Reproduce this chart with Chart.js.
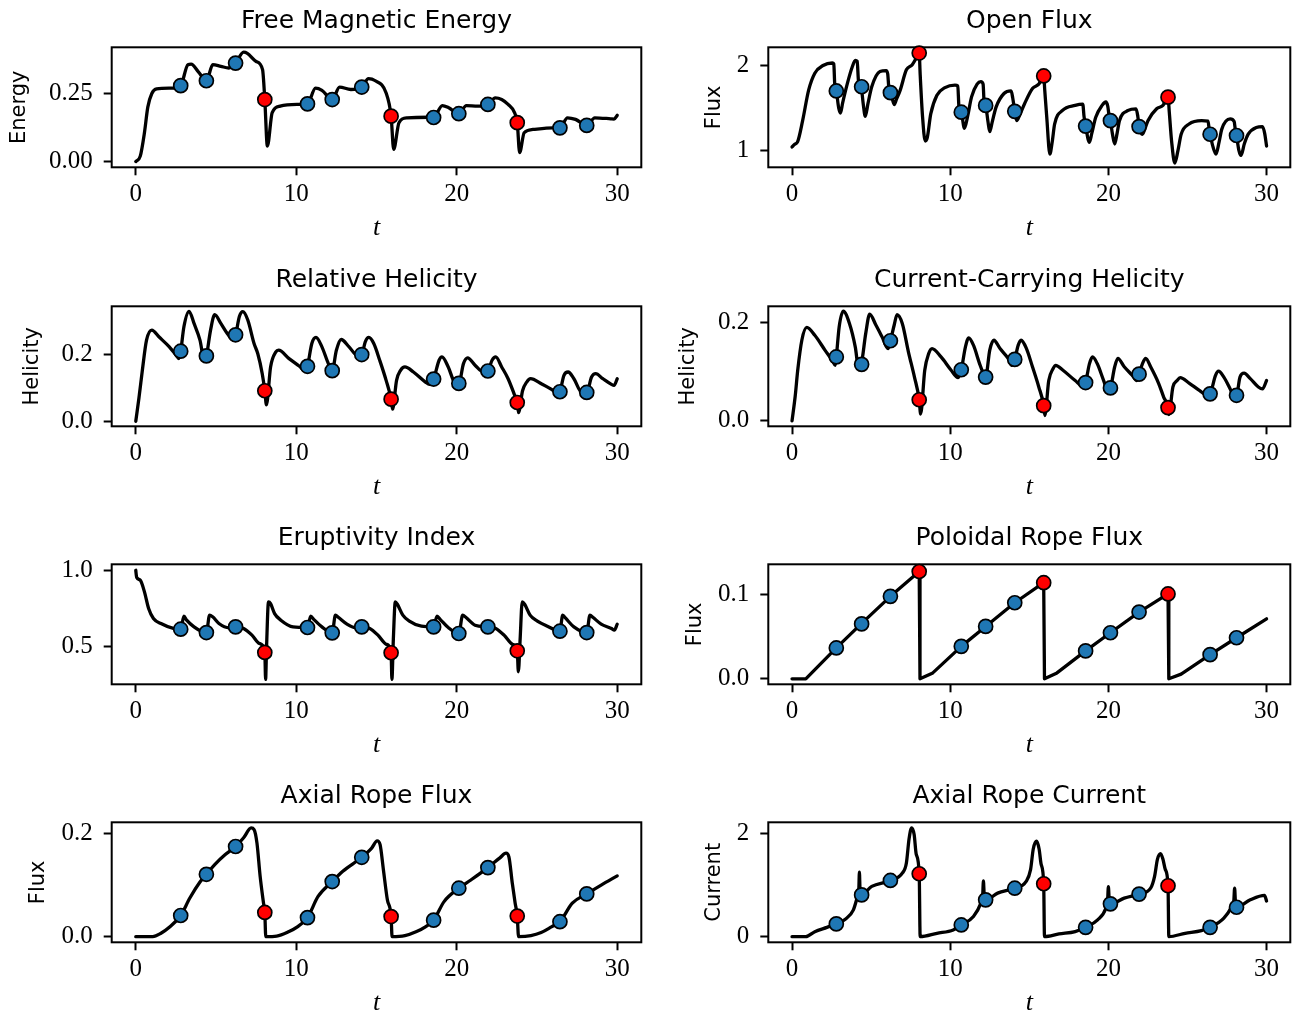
<!DOCTYPE html>
<html><head><meta charset="utf-8">
<script src="https://cdn.jsdelivr.net/npm/chart.js@4/dist/chart.umd.min.js"></script>
<style>
html,body{margin:0;padding:0;background:#fff;overflow:hidden;width:1299px;height:1015px;position:relative;}
canvas{position:absolute;}
</style></head><body>
<script>
// ---------- DATA ----------
const xTicks = [0, 10, 20, 30];
const xTickLabels = ['0', '10', '20', '30'];
const blueT = [2.8, 4.4, 6.22, 10.7, 12.24, 14.08, 18.56, 20.13, 21.94, 26.43, 28.1];
const redT = [8.04, 15.91, 23.77];

// Free Magnetic Energy
const energyT = [0,0.28,0.54,0.75,1.0,1.3,2.3,2.8,3.25,3.45,3.9,4.4,4.8,5.3,5.8,6.22,6.72,6.95,7.5,7.9,8.04,8.2,8.5,9.0,10.1,10.7,11.2,11.6,12.24,12.7,13.4,14.08,14.5,14.9,15.6,15.91,16.07,16.4,16.9,18.3,18.56,19.1,19.5,20.13,20.6,21.3,21.94,22.4,22.8,23.2,23.6,23.77,23.92,24.2,24.75,26.0,26.43,26.9,27.4,28.1,28.6,29.6,29.8,30];
const energyV = [0,0.02,0.106,0.20,0.25,0.267,0.27,0.279,0.356,0.358,0.33,0.297,0.356,0.35,0.344,0.362,0.402,0.398,0.368,0.338,0.228,0.057,0.18,0.204,0.21,0.212,0.27,0.262,0.228,0.274,0.265,0.274,0.305,0.298,0.252,0.167,0.045,0.143,0.161,0.163,0.162,0.206,0.198,0.176,0.206,0.204,0.21,0.234,0.228,0.21,0.18,0.143,0.033,0.106,0.118,0.124,0.124,0.161,0.155,0.133,0.161,0.157,0.156,0.17];
const energyBlue = [0.279,0.297,0.362,0.212,0.228,0.274,0.162,0.176,0.21,0.124,0.133];
const energyRed = [0.228,0.167,0.143];
const energyTicks = [0, 0.25], energyTickLabels = ['0.00', '0.25'];

// Open Flux
const ofT = [0,0.15,0.35,0.67,1.05,1.44,1.96,2.55,2.64,2.7,2.8,2.95,3.06,3.2,3.5,3.8,4.0,4.12,4.2,4.37,4.5,4.63,4.8,5.04,5.56,5.95,6.05,6.12,6.25,6.46,6.6,6.84,7.23,7.6,7.92,8.04,8.1,8.25,8.42,8.55,8.77,9.16,9.67,10.3,10.48,10.55,10.7,10.9,11.1,11.35,11.7,11.94,12.08,12.14,12.24,12.38,12.5,12.65,12.9,13.4,13.85,13.95,14.08,14.2,14.4,14.7,15.2,15.6,15.91,15.98,16.1,16.3,16.45,16.6,17.1,17.9,18.38,18.46,18.56,18.8,18.95,19.2,19.6,19.84,19.96,20.05,20.13,20.25,20.4,20.55,20.7,21.25,21.75,21.86,21.94,22.15,22.3,22.5,23.05,23.45,23.77,23.85,24.0,24.2,24.4,24.6,25.1,25.9,26.3,26.37,26.43,26.6,26.8,27.0,27.17,27.7,27.95,28.02,28.1,28.25,28.38,28.6,28.84,29.35,29.74,29.88,30];
const ofV = [1.04,1.07,1.10,1.35,1.71,1.91,2.00,2.03,2.02,1.78,1.70,1.50,1.44,1.56,1.79,1.98,2.06,2.05,1.82,1.75,1.55,1.40,1.55,1.75,1.93,1.94,1.90,1.74,1.68,1.54,1.60,1.71,1.95,2.01,2.11,2.147,1.9,1.4,1.11,1.15,1.43,1.65,1.74,1.77,1.76,1.52,1.45,1.26,1.40,1.63,1.78,1.81,1.78,1.58,1.53,1.35,1.22,1.33,1.51,1.67,1.70,1.62,1.46,1.35,1.42,1.55,1.73,1.78,1.877,1.7,1.4,0.956,1.1,1.31,1.47,1.53,1.545,1.40,1.286,1.095,1.2,1.39,1.53,1.57,1.52,1.40,1.35,1.2,1.075,1.2,1.35,1.47,1.49,1.40,1.28,1.19,1.25,1.35,1.49,1.53,1.627,1.45,1.1,0.85,1.0,1.19,1.31,1.35,1.345,1.25,1.19,1.05,0.956,1.1,1.25,1.37,1.34,1.25,1.175,1.0,0.94,1.08,1.19,1.27,1.28,1.2,1.05];
const ofBlue = [1.70,1.75,1.68,1.45,1.53,1.46,1.286,1.35,1.28,1.19,1.175];
const ofRed = [2.147,1.877,1.627];
const ofTicks = [1, 2], ofTickLabels = ['1', '2'];

// Relative Helicity
const rhT = [0,0.2,0.41,0.67,1.0,1.44,2.09,2.6,2.68,2.8,3.0,3.32,3.63,4.0,4.27,4.4,4.66,4.92,5.3,5.7,6.08,6.22,6.46,6.67,6.98,7.37,7.6,7.88,8.04,8.14,8.4,8.73,8.9,9.55,10.2,10.58,10.7,10.97,11.23,11.6,12.0,12.24,12.5,12.8,13.29,13.8,14.08,14.3,14.52,14.83,15.2,15.6,15.91,16.0,16.25,16.5,16.77,17.3,18.05,18.3,18.56,18.9,19.08,19.47,19.86,20.13,20.42,20.68,21.14,21.66,21.94,22.2,22.43,22.8,23.2,23.58,23.77,23.85,24.1,24.36,24.6,25.27,26.04,26.3,26.43,26.68,26.94,27.3,27.8,28.1,28.4,28.66,29.1,29.64,29.8,30];
const rhV = [0,0.07,0.152,0.242,0.272,0.252,0.222,0.192,0.187,0.209,0.282,0.328,0.292,0.242,0.182,0.195,0.272,0.318,0.292,0.262,0.242,0.258,0.313,0.327,0.302,0.232,0.202,0.142,0.091,0.049,0.162,0.207,0.212,0.187,0.164,0.15,0.164,0.232,0.25,0.222,0.172,0.151,0.212,0.244,0.222,0.197,0.199,0.237,0.25,0.232,0.182,0.122,0.066,0.036,0.122,0.152,0.162,0.147,0.117,0.11,0.126,0.182,0.192,0.162,0.117,0.113,0.172,0.189,0.167,0.147,0.15,0.182,0.192,0.162,0.127,0.081,0.056,0.026,0.091,0.117,0.127,0.112,0.091,0.081,0.088,0.137,0.147,0.127,0.086,0.086,0.132,0.142,0.127,0.11,0.107,0.127];
const rhBlue = [0.209,0.195,0.258,0.164,0.151,0.199,0.126,0.113,0.15,0.088,0.086];
const rhRed = [0.091,0.066,0.056];
const rhTicks = [0, 0.2], rhTickLabels = ['0.0', '0.2'];

// Current-Carrying Helicity
const chT = [0,0.2,0.36,0.62,0.93,1.44,2.08,2.6,2.73,2.8,2.98,3.24,3.63,4.0,4.2,4.37,4.66,4.91,5.3,5.69,6.07,6.22,6.46,6.64,6.97,7.36,7.74,8.04,8.13,8.39,8.64,8.85,9.42,10.06,10.5,10.7,10.96,11.17,11.47,11.86,12.1,12.24,12.5,12.76,13.15,13.66,13.9,14.08,14.3,14.48,14.82,15.2,15.6,15.91,15.98,16.23,16.5,16.67,17.13,17.9,18.42,18.56,18.8,19.0,19.3,19.7,19.96,20.13,20.4,20.6,21.0,21.5,21.8,21.94,22.15,22.36,22.67,23.18,23.5,23.77,23.82,24.08,24.34,24.54,25.1,25.75,26.27,26.43,26.78,26.96,27.3,27.7,27.94,28.1,28.32,28.58,28.97,29.48,29.74,30];
const chV = [0,0.05,0.103,0.164,0.19,0.174,0.144,0.12,0.113,0.13,0.191,0.223,0.198,0.15,0.11,0.115,0.178,0.217,0.195,0.171,0.147,0.163,0.195,0.216,0.198,0.14,0.089,0.043,0.014,0.103,0.137,0.147,0.13,0.103,0.088,0.104,0.15,0.169,0.154,0.116,0.096,0.089,0.144,0.164,0.147,0.127,0.113,0.125,0.154,0.164,0.147,0.11,0.069,0.031,0.011,0.082,0.106,0.113,0.103,0.082,0.07,0.078,0.116,0.13,0.116,0.082,0.062,0.067,0.11,0.127,0.11,0.093,0.082,0.095,0.116,0.127,0.11,0.076,0.048,0.027,0.013,0.069,0.082,0.088,0.077,0.062,0.052,0.055,0.093,0.101,0.089,0.065,0.05,0.052,0.089,0.097,0.086,0.069,0.065,0.082];
const chBlue = [0.13,0.115,0.163,0.104,0.089,0.125,0.078,0.067,0.095,0.055,0.052];
const chRed = [0.043,0.031,0.027];
const chTicks = [0, 0.2], chTickLabels = ['0.0', '0.2'];

// Eruptivity Index
const eiT = [0,0.03,0.06,0.28,0.54,0.8,1.1,1.57,2.34,2.8,3.0,3.17,3.63,4.15,4.4,4.6,4.79,5.18,5.82,6.22,6.72,7.24,7.7,8.04,8.09,8.15,8.27,8.4,8.65,9.04,9.8,10.7,10.9,11.1,11.6,12.24,12.44,12.64,13.16,13.67,14.08,14.58,15.09,15.6,15.91,15.96,16.05,16.17,16.3,16.64,17.02,17.8,18.56,18.77,18.98,19.47,20.13,20.37,20.58,21.14,21.94,22.43,22.95,23.46,23.77,23.84,23.95,24.08,24.23,24.57,25.0,25.65,26.43,26.6,26.8,27.3,28.1,28.3,28.5,29.0,29.64,29.82,30];
const eiV = [1.0,0.97,0.952,0.935,0.859,0.75,0.685,0.652,0.62,0.615,0.70,0.674,0.63,0.598,0.593,0.707,0.696,0.652,0.624,0.63,0.62,0.576,0.522,0.463,0.287,0.5,0.793,0.782,0.717,0.674,0.63,0.626,0.70,0.678,0.63,0.591,0.707,0.691,0.648,0.626,0.63,0.62,0.576,0.517,0.461,0.287,0.55,0.793,0.778,0.707,0.67,0.635,0.63,0.70,0.678,0.626,0.587,0.707,0.691,0.641,0.63,0.62,0.576,0.517,0.474,0.337,0.55,0.793,0.778,0.707,0.67,0.635,0.602,0.707,0.685,0.63,0.593,0.707,0.691,0.648,0.62,0.609,0.648];
const eiBlue = [0.615,0.593,0.63,0.626,0.591,0.63,0.63,0.587,0.63,0.602,0.593];
const eiRed = [0.463,0.461,0.474];
const eiTicks = [0.5, 1.0], eiTickLabels = ['0.5', '1.0'];

// Poloidal Rope Flux
const pfT = [0,0.87,2.8,4.37,6.22,8.04,8.09,8.9,10.7,12.24,14.08,15.91,15.96,16.75,18.56,20.13,21.94,23.77,23.82,24.6,26.43,28.1,30];
const pfV = [0,0,0.0365,0.065,0.0976,0.127,0,0.007,0.0384,0.062,0.09,0.1137,0,0.007,0.033,0.0545,0.079,0.1004,0,0.0055,0.0286,0.0486,0.071];
const pfBlue = [0.0365,0.065,0.0976,0.0384,0.062,0.09,0.033,0.0545,0.079,0.0286,0.0486];
const pfRed = [0.127,0.1137,0.1004];
const pfTicks = [0, 0.1], pfTickLabels = ['0.0', '0.1'];

// Axial Rope Flux
const afT = [0,1.06,1.57,2.09,2.8,3.37,4.0,4.4,4.92,5.56,6.22,6.72,7.19,7.37,7.55,7.75,7.96,8.04,8.1,8.78,9.55,10.07,10.7,11.36,12.24,12.9,14.08,14.7,15.04,15.22,15.43,15.68,15.91,15.97,16.77,17.5,18.05,18.56,19.21,20.13,20.88,21.94,22.69,23.07,23.25,23.46,23.64,23.77,23.85,24.62,25.26,25.9,26.43,27.2,28.1,29.0,30];
const afV = [0,0,0.0065,0.018,0.041,0.075,0.106,0.121,0.14,0.159,0.175,0.192,0.211,0.208,0.182,0.117,0.065,0.047,0,0.001,0.01,0.019,0.037,0.078,0.107,0.127,0.154,0.172,0.186,0.179,0.13,0.071,0.039,0,0.002,0.01,0.019,0.032,0.068,0.094,0.11,0.134,0.153,0.162,0.155,0.104,0.065,0.04,0,0.002,0.008,0.019,0.029,0.065,0.083,0.1,0.118];
const afBlue = [0.041,0.121,0.175,0.037,0.107,0.154,0.032,0.094,0.134,0.029,0.083];
const afRed = [0.047,0.039,0.04];
const afTicks = [0, 0.2], afTickLabels = ['0.0', '0.2'];

// Axial Rope Current
const acT = [0,0.87,1.44,2.21,2.8,3.37,3.88,4.14,4.22,4.26,4.3,4.37,5.04,6.22,6.97,7.23,7.4,7.56,7.72,7.85,8.04,8.1,9.16,10.19,10.7,11.47,11.94,12.05,12.1,12.15,12.24,13.0,14.08,14.8,15.08,15.25,15.46,15.62,15.75,15.91,15.96,16.88,17.9,18.56,19.32,19.84,19.95,20.0,20.05,20.13,21.0,21.94,22.67,22.92,23.1,23.3,23.45,23.6,23.77,23.82,24.85,25.88,26.43,27.3,27.8,27.93,27.98,28.03,28.1,28.97,29.87,30];
const acV = [0,0,0.097,0.18,0.247,0.338,0.52,0.78,0.9,1.25,0.9,0.81,0.974,1.09,1.23,1.43,1.9,2.11,1.98,1.6,1.22,0,0.065,0.13,0.227,0.39,0.65,0.78,1.08,0.8,0.714,0.844,0.94,1.07,1.3,1.7,1.85,1.7,1.4,1.026,0,0.052,0.097,0.18,0.325,0.55,0.7,0.97,0.72,0.636,0.747,0.825,0.94,1.17,1.5,1.61,1.5,1.3,0.987,0,0.065,0.117,0.18,0.357,0.584,0.7,0.94,0.68,0.57,0.714,0.8,0.69];
const acBlue = [0.247,0.81,1.09,0.227,0.714,0.94,0.18,0.636,0.825,0.18,0.57];
const acRed = [1.22,1.026,0.987];
const acTicks = [0, 2], acTickLabels = ['0', '2'];

// ---------- PANELS ----------
const panels = [
  {title:'Free Magnetic Energy', ylabel:'Energy', t:energyT, v:energyV, blue:energyBlue, red:energyRed, ticks:energyTicks, labels:energyTickLabels, range:[-0.021,0.42], labelX:19.5},
  {title:'Open Flux', ylabel:'Flux', t:ofT, v:ofV, blue:ofBlue, red:ofRed, ticks:ofTicks, labels:ofTickLabels, range:[0.80,2.215], labelX:64.6},
  {title:'Relative Helicity', ylabel:'Helicity', t:rhT, v:rhV, blue:rhBlue, red:rhRed, ticks:rhTicks, labels:rhTickLabels, range:[-0.015,0.343], labelX:33},
  {title:'Current-Carrying Helicity', ylabel:'Helicity', t:chT, v:chV, blue:chBlue, red:chRed, ticks:chTicks, labels:chTickLabels, range:[-0.011,0.233], labelX:38.5},
  {title:'Eruptivity Index', ylabel:'', t:eiT, v:eiV, blue:eiBlue, red:eiRed, ticks:eiTicks, labels:eiTickLabels, range:[0.255,1.039], labelX:30},
  {title:'Poloidal Rope Flux', ylabel:'Flux', t:pfT, v:pfV, blue:pfBlue, red:pfRed, ticks:pfTicks, labels:pfTickLabels, range:[-0.0065,0.1355], labelX:45.3, straight:true},
  {title:'Axial Rope Flux', ylabel:'Flux', t:afT, v:afV, blue:afBlue, red:afRed, ticks:afTicks, labels:afTickLabels, range:[-0.011,0.222], labelX:38.7},
  {title:'Axial Rope Current', ylabel:'Current', t:acT, v:acV, blue:acBlue, red:acRed, ticks:acTicks, labels:acTickLabels, range:[-0.11,2.218], labelX:64.8}
];

// ---------- LAYOUT ----------
const COL_X = [0, 650], COL_W = [650, 649];
const ROW_Y = [0, 259, 517, 775];
const PLOT_L = [111.7, 118.3], PLOT_R = [643.3, 648];
const PLOT_TOP = 47.3, PLOT_H = 120, CH = 245;
const XLABEL_MID = 228.5;
const XTITLE_SIZE = 26;
const XSCALE_BOTTOM = XLABEL_MID + XTITLE_SIZE * 0.6;

Chart.defaults.color = '#000';
Chart.defaults.font.weight = 'normal';

const framePlugin = {
  id: 'frame',
  beforeDatasetsDraw(chart) {
    const {ctx, chartArea: a} = chart;
    ctx.save();
    ctx.strokeStyle = '#000';
    ctx.lineWidth = 2;
    ctx.strokeRect(a.left, a.top, a.right - a.left, a.bottom - a.top);
    ctx.restore();
  }
};

const tickFont = {family: 'Liberation Serif', size: 25, lineHeight: 1.2};
const gridOpts = {drawOnChartArea: false, drawTicks: true, tickLength: 8, tickWidth: 2, tickColor: '#000'};

panels.forEach((p, i) => {
  const col = i % 2, row = Math.floor(i / 2);
  const cw = COL_W[col];
  const cv = document.createElement('canvas');
  cv.width = cw; cv.height = CH;
  cv.style.left = COL_X[col] + 'px';
  cv.style.top = ROW_Y[row] + 'px';
  cv.style.width = cw + 'px';
  cv.style.height = CH + 'px';
  document.body.appendChild(cv);
  const padLeft = p.labelX - 12.6;
  const padRight = cw - PLOT_R[col];
  const padBottom = CH - XSCALE_BOTTOM;
  const yWidth = PLOT_L[col] - padLeft;
  const xHeight = XSCALE_BOTTOM - (PLOT_TOP + PLOT_H);
  const curve = p.t.map((t, k) => ({x: t, y: p.v[k]}));
  const blue = blueT.map((t, k) => ({x: t, y: p.blue[k]}));
  const red = redT.map((t, k) => ({x: t, y: p.red[k]}));
  new Chart(cv, {
    type: 'line',
    data: {datasets: [
      {data: red, showLine: false, pointRadius: 7, pointHoverRadius: 7, pointBackgroundColor: '#ff0000', pointBorderColor: '#000', pointBorderWidth: 1.7, order: 1, clip: false},
      {data: blue, showLine: false, pointRadius: 7, pointHoverRadius: 7, pointBackgroundColor: '#1f77b4', pointBorderColor: '#000', pointBorderWidth: 1.7, order: 1, clip: false},
      {data: curve, borderColor: '#000', borderWidth: 3.3, pointRadius: 0, fill: false, borderJoinStyle: 'round', borderCapStyle: 'round',
       cubicInterpolationMode: p.straight ? 'default' : 'monotone', tension: 0, order: 2}
    ]},
    options: {
      responsive: false, animation: false, devicePixelRatio: 1,
      events: [],
      layout: {padding: {left: padLeft, right: padRight, top: 0, bottom: padBottom}},
      plugins: {
        legend: {display: false}, tooltip: {enabled: false},
        title: {display: true, text: p.title, fullSize: false, color: '#000',
          font: {family: 'DejaVu Sans', size: 25, lineHeight: 1.2, weight: 'normal'},
          padding: {top: 6, bottom: PLOT_TOP - 6 - 30}}
      },
      scales: {
        x: {
          type: 'linear', min: -1.5, max: 31.5,
          afterBuildTicks: s => { s.ticks = xTicks.map(v => ({value: v})); },
          afterFit: s => { s.height = xHeight; },
          ticks: {font: tickFont, color: '#000', padding: 4.5, autoSkip: false, maxRotation: 0,
                  callback: (v, k) => xTickLabels[k]},
          grid: gridOpts, border: {display: false},
          title: {display: true, text: 't', color: '#000', padding: 0,
                  font: {family: 'Liberation Serif', style: 'italic', size: XTITLE_SIZE, lineHeight: 1.2}}
        },
        y: {
          type: 'linear', min: p.range[0], max: p.range[1],
          afterBuildTicks: s => { s.ticks = p.ticks.map(v => ({value: v})); },
          afterFit: s => { s.width = yWidth; },
          ticks: {font: tickFont, color: '#000', padding: 11, autoSkip: false,
                  callback: (v, k) => p.labels[k]},
          grid: gridOpts, border: {display: false},
          title: {display: !!p.ylabel, text: p.ylabel, color: '#000', padding: 0,
                  font: {family: 'DejaVu Sans', size: 21, lineHeight: 1.2}}
        }
      }
    },
    plugins: [framePlugin]
  });
});
</script>
</body></html>
